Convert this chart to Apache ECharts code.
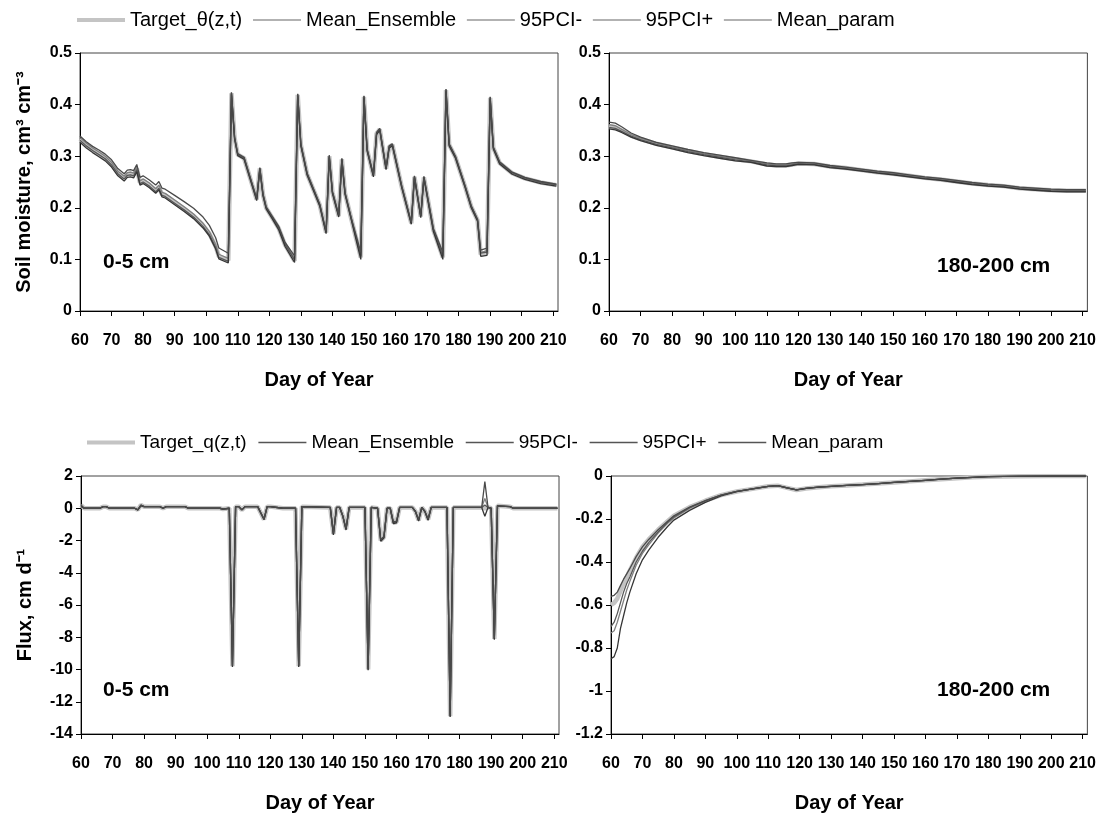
<!DOCTYPE html>
<html style="height: 100%">
<head>
	<meta charset="utf-8">
	<script src="https://cdn.jsdelivr.net/npm/echarts@6/dist/echarts.min.js"></script>
</head>
<body style="height: 100%; margin: 0; background: #fff">
	<div id="container" style="width: 1099px; height: 817px;"></div>
	<script type="text/javascript">
		// ---- 0-5 cm soil moisture (top left) ----
		let smTopDays = [60, 62, 64, 66, 68, 70, 72, 74, 75, 76, 77, 78, 79, 80, 82, 84, 85, 86, 87, 90, 93, 96, 99, 101, 103, 104, 107,
			108, 109, 110, 112, 114, 116, 117, 118, 119, 121, 123, 125, 128, 129, 130, 132, 134, 136, 138, 139, 140, 142, 143, 144, 146, 149,
			150, 151, 153, 154, 155, 157, 158, 159, 162, 165, 166, 168, 169, 172, 175, 176, 177, 179, 182, 184, 186, 187, 189,
			190, 191, 193, 197, 201, 206, 211];
		let smTopTarget = [.333, .322, .313, .305, .297, .285, .268, .258, .265, .266, .264, .276, .249, .252, .244, .233, .240, .226, .224, .211, .198, .184, .166, .150, .125, .106, .098,
			.422, .335, .303, .296, .256, .216, .276, .225, .200, .180, .160, .128, .097, .419, .322, .265, .235, .205, .152, .300, .230, .184, .294, .228, .178, .104,
			.415, .312, .262, .344, .352, .276, .318, .322, .240, .170, .260, .183, .259, .157, .104, .428, .322, .298, .242, .202, .176, .110, .112,
			.413, .316, .287, .267, .257, .249, .244];
		let smTopEns = [.336, .325, .316, .308, .300, .288, .271, .261, .268, .269, .267, .279, .252, .256, .248, .237, .244, .230, .228, .215, .202, .188, .170, .154, .129, .110, .102,
			.422, .335, .303, .296, .256, .216, .276, .225, .200, .181, .162, .130, .102, .419, .322, .265, .235, .205, .152, .300, .230, .184, .294, .228, .178, .108,
			.415, .312, .262, .344, .352, .276, .318, .322, .240, .170, .260, .183, .259, .158, .108, .428, .322, .298, .242, .202, .176, .113, .117,
			.413, .316, .287, .267, .257, .249, .244];
		let smTopLo = [.327, .316, .307, .299, .291, .279, .262, .252, .259, .260, .258, .270, .244, .247, .239, .228, .235, .221, .219, .206, .193, .179, .161, .145, .120, .101, .093,
			.420, .333, .301, .294, .254, .214, .274, .223, .198, .178, .157, .125, .094, .417, .320, .263, .233, .203, .150, .298, .228, .182, .292, .226, .176, .100,
			.413, .310, .260, .342, .350, .274, .316, .320, .238, .168, .258, .181, .257, .154, .100, .426, .320, .296, .240, .200, .174, .106, .108,
			.411, .314, .285, .265, .255, .247, .242];
		let smTopHi = [.339, .328, .319, .312, .304, .293, .276, .266, .273, .274, .272, .284, .259, .262, .254, .244, .251, .238, .236, .224, .212, .199, .182, .166, .142, .122, .112,
			.424, .337, .305, .298, .258, .218, .278, .227, .202, .183, .164, .133, .107, .421, .324, .267, .237, .207, .154, .302, .232, .186, .296, .230, .180, .114,
			.417, .314, .264, .346, .354, .278, .320, .324, .242, .172, .262, .185, .261, .160, .114, .430, .324, .300, .244, .204, .178, .118, .122,
			.415, .318, .289, .269, .259, .251, .246];
		let smTopPar = [.331, .320, .311, .303, .295, .283, .266, .256, .263, .264, .262, .274, .247, .250, .242, .231, .238, .224, .222, .209, .196, .182, .164, .148, .123, .104, .096,
			.423, .336, .304, .297, .257, .217, .277, .226, .201, .181, .161, .129, .099, .420, .323, .266, .236, .206, .153, .301, .231, .185, .295, .229, .179, .106,
			.416, .313, .263, .345, .353, .277, .319, .323, .241, .171, .261, .184, .260, .158, .106, .429, .323, .299, .243, .203, .177, .112, .114,
			.414, .317, .288, .268, .258, .250, .245];

		// ---- 180-200 cm soil moisture (top right) ----
		let smDeepDays = [60, 62, 64, 67, 70, 75, 80, 85, 90, 95, 100, 105, 110, 113, 116, 118, 120, 125, 130, 135, 140, 145, 150, 155, 160, 165, 170, 175, 180, 185, 190, 195, 200, 205, 211];
		let smDeepTarget = [.358, .356, .350, .340, .333, .324, .317, .310, .304, .299, .294, .290, .284, .282, .282, .284, .286, .285, .280, .277, .273, .269, .266, .262, .258, .255, .251, .247, .244, .242, .238, .236, .234, .233, .233];
		let smDeepEns = [.361, .359, .352, .342, .335, .326, .318, .311, .305, .300, .295, .291, .285, .283, .283, .285, .287, .286, .281, .278, .274, .270, .267, .263, .259, .256, .252, .248, .245, .243, .239, .237, .235, .234, .234];
		let smDeepLo = [.353, .351, .346, .337, .330, .321, .314, .307, .301, .296, .291, .288, .281, .280, .280, .282, .284, .283, .278, .275, .271, .267, .264, .260, .256, .253, .249, .245, .242, .240, .236, .234, .232, .231, .231];
		let smDeepHi = [.366, .364, .357, .345, .337, .327, .320, .313, .307, .302, .297, .292, .287, .285, .285, .287, .288, .287, .282, .279, .275, .271, .268, .264, .260, .257, .253, .249, .246, .244, .240, .238, .236, .235, .235];
		let smDeepPar = [.356, .354, .348, .339, .332, .323, .316, .309, .303, .298, .293, .289, .283, .281, .281, .283, .285, .284, .279, .276, .272, .268, .265, .261, .257, .254, .250, .246, .243, .241, .237, .235, .233, .232, .232];

		// ---- 0-5 cm flux (bottom left) ----
		let flTopDays = [60, 61, 66, 67, 68, 69, 77, 78, 79, 80, 85, 86, 87, 93, 94, 104, 105, 107, 108, 109, 110, 111, 112, 113, 116, 117, 118, 119, 120, 124, 125,
			128, 129, 130, 139, 140, 141, 142, 143, 144, 145, 150, 151, 152, 154, 155, 156, 157, 158, 159, 160, 161, 165, 166, 167, 168, 169, 170, 171,
			176, 177, 178, 187, 188, 189, 190, 191, 192, 196, 197, 211];
		let flTopTarget = [0.2, 0.0, 0.0, 0.1, 0.1, 0.0, 0.0, -0.1, 0.2, 0.1, 0.1, 0.0, 0.1, 0.1, 0.0, 0.0, -0.05, 0.0, -9.8, 0.1, 0.1, -0.1, 0.1, 0.1, 0.1, -0.3, -0.7, 0.1, 0.1, 0.0, 0.0,
			0.0, -9.8, 0.1, 0.05, -1.6, 0.05, 0.05, -0.5, -1.3, 0.05, 0.05, -10.0, 0.05, 0.0, -2.0, -1.8, 0.0, 0.0, -0.9, -0.85, 0.05, 0.05, -0.2, -0.75, 0.05, -0.2, -0.7, 0.05,
			0.05, -12.9, 0.05, 0.05, 0.0, 0.05, 0.0, -8.1, 0.15, 0.1, 0.0, 0.0];
		let flTopEns = [0.15, 0.0, 0.0, 0.1, 0.1, 0.0, 0.0, -0.1, 0.2, 0.1, 0.1, 0.0, 0.1, 0.1, 0.0, 0.0, -0.05, 0.0, -9.7, 0.1, 0.1, -0.1, 0.1, 0.1, 0.1, -0.3, -0.7, 0.1, 0.1, 0.0, 0.0,
			0.0, -9.75, 0.1, 0.05, -1.6, 0.05, 0.05, -0.5, -1.3, 0.05, 0.05, -9.9, 0.05, 0.0, -2.0, -1.8, 0.0, 0.0, -0.9, -0.85, 0.05, 0.05, -0.2, -0.75, 0.05, -0.2, -0.7, 0.05,
			0.05, -12.8, 0.05, 0.05, 0.6, 0.05, 0.0, -8.1, 0.15, 0.1, 0.0, 0.0];
		let flTopLo = [0.1, 0.0, 0.0, 0.1, 0.1, 0.0, 0.0, -0.1, 0.15, 0.1, 0.1, 0.0, 0.1, 0.1, 0.0, 0.0, -0.05, 0.0, -9.85, 0.1, 0.1, -0.1, 0.1, 0.1, 0.1, -0.3, -0.7, 0.1, 0.1, 0.0, 0.0,
			0.0, -9.85, 0.1, 0.05, -1.65, 0.05, 0.05, -0.5, -1.35, 0.05, 0.05, -10.05, 0.05, 0.0, -2.05, -1.85, 0.0, 0.0, -0.95, -0.9, 0.05, 0.05, -0.2, -0.8, 0.05, -0.2, -0.75, 0.05,
			0.05, -12.95, 0.05, 0.05, -0.5, 0.05, 0.0, -8.15, 0.15, 0.1, 0.0, 0.0];
		let flTopHi = [0.2, 0.0, 0.0, 0.1, 0.1, 0.0, 0.0, -0.1, 0.2, 0.1, 0.1, 0.0, 0.1, 0.1, 0.0, 0.0, -0.05, 0.0, -9.75, 0.1, 0.1, -0.1, 0.1, 0.1, 0.1, -0.3, -0.65, 0.1, 0.1, 0.0, 0.0,
			0.0, -9.75, 0.1, 0.05, -1.55, 0.05, 0.05, -0.5, -1.25, 0.05, 0.05, -9.95, 0.05, 0.0, -1.95, -1.75, 0.0, 0.0, -0.85, -0.8, 0.05, 0.05, -0.2, -0.7, 0.05, -0.2, -0.65, 0.05,
			0.05, -12.85, 0.05, 0.05, 1.65, 0.05, 0.0, -8.05, 0.15, 0.1, 0.0, 0.0];
		let flTopPar = [0.15, 0.0, 0.0, 0.1, 0.1, 0.0, 0.0, -0.1, 0.2, 0.1, 0.1, 0.0, 0.1, 0.1, 0.0, 0.0, -0.05, 0.0, -9.8, 0.1, 0.1, -0.1, 0.1, 0.1, 0.1, -0.3, -0.7, 0.1, 0.1, 0.0, 0.0,
			0.0, -9.8, 0.1, 0.05, -1.6, 0.05, 0.05, -0.5, -1.3, 0.05, 0.05, -10.0, 0.05, 0.0, -2.0, -1.8, 0.0, 0.0, -0.9, -0.85, 0.05, 0.05, -0.2, -0.75, 0.05, -0.2, -0.7, 0.05,
			0.05, -12.9, 0.05, 0.05, 0.2, 0.05, 0.0, -8.1, 0.15, 0.1, 0.0, 0.0];

		// ---- 180-200 cm flux (bottom right) ----
		let flDeepDays = [60, 61, 62, 63, 64, 65, 66, 68, 70, 72, 75, 78, 80, 85, 90, 95, 100, 105, 110, 113, 116, 119, 122, 126, 130, 135, 140, 145, 150, 155, 160, 165, 170, 175, 180, 185, 190, 200, 211];
		let flDeepTarget = [-0.60, -0.59, -0.57, -0.535, -0.50, -0.47, -0.44, -0.38, -0.33, -0.295, -0.25, -0.21, -0.185, -0.145, -0.115, -0.089, -0.072, -0.060, -0.048, -0.045, -0.055, -0.065, -0.058, -0.052, -0.048, -0.044, -0.040, -0.035, -0.030, -0.025, -0.020, -0.015, -0.010, -0.006, -0.003, -0.002, -0.001, 0, 0];
		let flDeepEns = [-0.73, -0.72, -0.68, -0.63, -0.58, -0.53, -0.49, -0.415, -0.36, -0.32, -0.265, -0.22, -0.195, -0.15, -0.117, -0.089, -0.072, -0.060, -0.048, -0.045, -0.055, -0.065, -0.058, -0.052, -0.048, -0.044, -0.040, -0.035, -0.030, -0.025, -0.020, -0.015, -0.010, -0.006, -0.003, -0.002, -0.001, 0, 0];
		let flDeepLo = [-0.85, -0.84, -0.80, -0.71, -0.65, -0.59, -0.54, -0.455, -0.39, -0.345, -0.285, -0.235, -0.205, -0.16, -0.123, -0.093, -0.073, -0.060, -0.048, -0.045, -0.055, -0.065, -0.058, -0.052, -0.048, -0.044, -0.040, -0.035, -0.030, -0.025, -0.020, -0.015, -0.010, -0.006, -0.003, -0.002, -0.001, 0, 0];
		let flDeepHi = [-0.56, -0.555, -0.54, -0.51, -0.48, -0.455, -0.43, -0.375, -0.33, -0.295, -0.25, -0.21, -0.185, -0.145, -0.115, -0.089, -0.072, -0.060, -0.048, -0.045, -0.055, -0.065, -0.058, -0.052, -0.048, -0.044, -0.040, -0.035, -0.030, -0.025, -0.020, -0.015, -0.010, -0.006, -0.003, -0.002, -0.001, 0, 0];
		let flDeepPar = [-0.70, -0.68, -0.64, -0.59, -0.54, -0.50, -0.47, -0.40, -0.35, -0.31, -0.26, -0.215, -0.19, -0.147, -0.115, -0.089, -0.072, -0.060, -0.048, -0.045, -0.055, -0.065, -0.058, -0.052, -0.048, -0.044, -0.040, -0.035, -0.030, -0.025, -0.020, -0.015, -0.010, -0.006, -0.003, -0.002, -0.001, 0, 0];

		let otherNames = ['Mean_Ensemble', '95PCI-', '95PCI+', 'Mean_param'];
		let smTargetName = 'Target_\u03b8(z,t)';
		let flTargetName = 'Target_q(z,t)';

		let dom = document.getElementById("container");
		let myChart = echarts.init(dom);

		const boldFont = '"Liberation Sans", Arial, sans-serif';

		// line styles for target / ensemble / lo / hi / param
		let styles = [
			{ color: '#c4c4c4', width: 4.5, z: 2 },
			{ color: '#808080', width: 1.3, z: 3 },
			{ color: '#363636', width: 1.3, z: 4 },
			{ color: '#4a4a4a', width: 1.3, z: 5 },
			{ color: '#585858', width: 1.3, z: 3 }
		];

		function makeSeries(names, idx, days, valueLists) {
			let out = [];
			for (let k = 0; k < names.length; k++) {
				let vals = valueLists[k];
				out.push({
					name: names[k],
					type: 'line',
					xAxisIndex: idx,
					yAxisIndex: idx,
					symbol: 'none',
					animation: false,
					z: styles[k].z,
					lineStyle: { color: styles[k].color, width: styles[k].width },
					itemStyle: { color: styles[k].color },
					data: days.map(function (d, i) { return [d, vals[i]]; })
				});
			}
			return out;
		}

		let smNames = [smTargetName].concat(otherNames);
		let flNames = [flTargetName].concat(otherNames);

		let seriesData = []
			.concat(makeSeries(smNames, 0, smTopDays, [smTopTarget, smTopEns, smTopLo, smTopHi, smTopPar]))
			.concat(makeSeries(smNames, 1, smDeepDays, [smDeepTarget, smDeepEns, smDeepLo, smDeepHi, smDeepPar]))
			.concat(makeSeries(flNames, 2, flTopDays, [flTopTarget, flTopEns, flTopLo, flTopHi, flTopPar]))
			.concat(makeSeries(flNames, 3, flDeepDays, [flDeepTarget, flDeepEns, flDeepLo, flDeepHi, flDeepPar]));

		let grids = [
			{ left: 80, top: 53, width: 478, height: 258 },
			{ left: 609, top: 53, width: 479, height: 258 },
			{ left: 81, top: 476, width: 478, height: 258 },
			{ left: 611, top: 476, width: 477, height: 258 }
		].map(function (g) {
			return Object.assign({ show: true, borderColor: '#444', borderWidth: 1, backgroundColor: 'transparent' }, g);
		});

		function xAxisFor(i) {
			return {
				type: 'value', gridIndex: i, min: 60, max: 211.5, interval: 10,
				name: 'Day of Year', nameLocation: 'middle', nameGap: 59,
				nameTextStyle: { fontFamily: boldFont, fontWeight: 'bold', fontSize: 20, color: '#000' },
				axisLine: { onZero: false, lineStyle: { color: '#000', width: 1 } },
				axisTick: { length: 5, lineStyle: { color: '#000' } },
				axisLabel: { showMaxLabel: false, margin: 22, fontFamily: boldFont, fontWeight: 'bold', fontSize: 16, color: '#000' },
				splitLine: { show: false }
			};
		}

		function yAxisFor(i, min, max, interval, name) {
			return {
				type: 'value', gridIndex: i, min: min, max: max, interval: interval,
				name: name, nameLocation: 'middle', nameGap: 46, nameRotate: 90,
				nameTextStyle: { fontFamily: boldFont, fontWeight: 'bold', fontSize: 20, color: '#000' },
				axisLine: { onZero: false, lineStyle: { color: '#000', width: 1 } },
				axisTick: { length: 5, lineStyle: { color: '#000' } },
				axisLabel: { margin: 8, fontFamily: boldFont, fontWeight: 'bold', fontSize: 16, color: '#000' },
				splitLine: { show: false }
			};
		}

		// legend icons: plain lines, no marker
		function legendItems(names, otherColor) {
			return names.map(function (n, k) {
				let ls = k === 0 ? { color: '#c4c4c4', width: 4 } : { color: otherColor, width: 1.5 };
				return {
					name: n,
					lineStyle: ls,
					itemStyle: { color: 'rgba(0,0,0,0)', borderColor: 'rgba(0,0,0,0)', borderWidth: 0 }
				};
			});
		}

		function depthLabel(text, x, y) {
			return {
				type: 'text', left: x, top: y, silent: true,
				style: { text: text, fill: '#000', font: 'bold 21px "Liberation Sans", Arial, sans-serif' }
			};
		}

		let option = {
			backgroundColor: '#fff',
			animation: false,
			grid: grids,
			legend: [
				{
					left: 70, top: 5, itemWidth: 48, itemHeight: 12, itemGap: 10,
					textStyle: { fontFamily: boldFont, fontSize: 20, color: '#000' },
					data: legendItems(smNames, '#999999')
				},
				{
					left: 80, top: 428, itemWidth: 48, itemHeight: 12, itemGap: 11,
					textStyle: { fontFamily: boldFont, fontSize: 19, color: '#000' },
					data: legendItems(flNames, '#555555')
				}
			],
			xAxis: [xAxisFor(0), xAxisFor(1), xAxisFor(2), xAxisFor(3)],
			yAxis: [
				yAxisFor(0, 0, 0.5, 0.1, 'Soil moisture, cm\u00b3 cm\u207b\u00b3'),
				yAxisFor(1, 0, 0.5, 0.1, ''),
				yAxisFor(2, -14, 2, 2, 'Flux, cm d\u207b\u00b9'),
				yAxisFor(3, -1.2, 0, 0.2, '')
			],
			graphic: [
				depthLabel('0-5 cm', 103, 252),
				depthLabel('180-200 cm', 937, 256),
				depthLabel('0-5 cm', 103, 680),
				depthLabel('180-200 cm', 937, 680)
			],
			series: seriesData
		};

		myChart.setOption(option);
	</script>
</body>
</html>
